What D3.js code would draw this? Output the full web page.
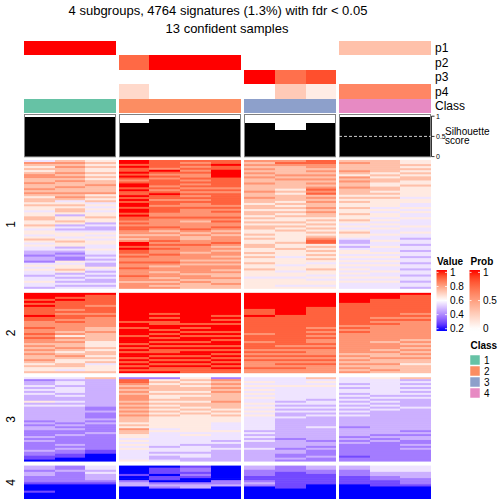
<!DOCTYPE html>
<html><head><meta charset="utf-8">
<script src="https://cdn.jsdelivr.net/npm/d3@7"></script>
<style>body{margin:0;background:#fff} svg{display:block} text{font-family:"Liberation Sans",Arial,Helvetica,sans-serif}</style>
</head><body><svg id="c" width="504" height="504"></svg>
<script>
// ---------------- data ----------------
const titleLines = ["4 subgroups, 4764 signatures (1.3%) with fdr < 0.05", "13 confident samples"];
const sampleClass = [1,1,1,2,2,2,2,3,3,3,4,4,4];
const classLevels = [1,2,3,4];
const classColors = ["#66C2A5","#FC8D62","#8DA0CB","#E78AC3"];
const probNames = ["p1","p2","p3","p4"];
const p1 = [1,1,1, 0,0,0,0, 0,0,0, 0.33,0.33,0.33];
const p2 = [0,0,0, 0.75,1,1,1, 0,0,0, 0,0,0];
const p3 = [0,0,0, 0,0,0,0, 1,0.72,0.85, 0,0,0];
const p4 = [0,0,0, 0.2,0,0,0, 0,0.28,0.1, 0.62,0.62,0.62];
const silhouette = [0.99,0.99,0.99, 0.82,0.93,0.93,0.93, 0.82,0.67,0.82, 0.99,0.99,0.99];
const rowGroupNames = ["1","2","3","4"];
const rowGroupCounts = [1877,1171,1229,487];
// each digit d = one band of rows (top to bottom), value = 0.2 + d*0.8/9
const heat1 = [
 "4765656776676676765665655455665565455456545443323324545443445443",
 "6767667676766766767645656653556534345545655343232254556534343434",
 "5656556565667666756564545455655343345454554454434343354343433434",
 "998988989878998988989899899898878788776767998988787787787778776777",
 "888879878788878789887887888778777787676778787877877787677677676767",
 "878787877878787878787877877778767778767667787776777676777767767666",
 "889889999888887878888887878778787787676777876767767676776766766766",
 "767676767667666766766566566565656655656556655656556556555455555",
 "787666676766665656665656565655656565555565565554555455455455545",
 "887767676767678786767667676656565656567885656565654556554545545",
 "676667657676676665656556556556545456554334345545454545454545444",
 "666666565665566565655554545545454544544544544545454544544545444",
 "556565656655655555455445454454445445443443443443443443443443443"];
const heat2 = [
 "9998989888898877787787877676767667656556",
 "9989888878788787777675767667656765566546",
 "9888887888787777766766665556566565645556",
 "9999999999999989989998999898989989898989",
 "9999999999898988998989898989889898989889",
 "9999999999999998989898998989899898989888",
 "9999999999989898999898989989898989898988",
 "9999999988898888888878887888787878777877",
 "9999999999988888888888888878787878787877",
 "9999999888888888878787877878777878787777",
 "9999988888888888787877777777776767676767",
 "9998888888887878777777776777676676676676",
 "9888888888787877777777767676767676656666"];
const heat3 = [
 "4233434343335343333333232332223232222322110",
 "4344344434334343333333323232232222323221100",
 "6333333333333332232223232222322222222110000",
 "2887676767776767676766656576655454545444445",
 "2565666565565656565655555545444444434434334",
 "5656566565665665656555555555454444344434433",
 "2767676766667666565655544445444434334333333",
 "4454545454544545454544444443434343334333333",
 "4444544444443434343343333333333233332332232",
 "6454544444434434343433333433333323323222322",
 "4443434434343434343433333233332323222222122",
 "5444444443434343433333333333323232222222222",
 "6343434343433334333333333332323322323222222"];
const heat4 = [
 "3323322210001000",
 "2232222210000000",
 "4434333210000000",
 "0000100233000000",
 "0111011023200000",
 "1221210023300000",
 "0000000223000000",
 "3322211232000000",
 "2221111111100000",
 "3322111110000000",
 "3322211110000000",
 "4443322111000000",
 "4443332221000000"];
const valueTicks = [1,0.8,0.6,0.4,0.2];
const probTicks = [1,0.5,0];
const silTicks = [0,0.5,1];

// ---------------- drawing ----------------
const svg = d3.select("#c");
const valueColor = d3.scaleLinear().domain([0.2,0.6,1]).range(["#0000FF","#FFFFFF","#FF0000"]).interpolate(d3.interpolateLab).clamp(true);
const probColor = d3.scaleLinear().domain([0,1]).range(["#FFFFFF","#FF0000"]).interpolate(d3.interpolateLab);
const classColor = d3.scaleOrdinal().domain(classLevels).range(classColors);
const decode = ch => 0.2 + (+ch) * 0.8 / 9;

const colGap = 3;
const band = d3.scaleBand().domain(d3.range(sampleClass.length)).range([24, 431 - colGap*3]);
const bw = band.bandwidth();
const xPos = i => band(i) + (sampleClass[i]-1)*colGap;
const colX = i => Math.round(xPos(i));
const colW = i => Math.round(xPos(i) + bw) - colX(i);
const groupIdx = k => d3.range(sampleClass.length).filter(i => sampleClass[i] === k);
const groupExtent = k => {
  const idx = groupIdx(k);
  return [colX(idx[0]), colX(idx[idx.length-1]) + colW(idx[idx.length-1])];
};

// title
svg.append("text").attr("x",218).attr("y",15).attr("text-anchor","middle").attr("font-size",13).text(titleLines[0]);
svg.append("text").attr("x",227).attr("y",33).attr("text-anchor","middle").attr("font-size",13).text(titleLines[1]);

// prob annotations
const probRows = [p1,p2,p3,p4];
const annY = d3.scaleBand().domain(probNames).range([41, 98.6]);
probRows.forEach((arr, r) => {
  svg.append("g").attr("shape-rendering","crispEdges").selectAll("rect").data(arr).join("rect")
    .attr("x",(d,i)=>colX(i)).attr("width",(d,i)=>colW(i))
    .attr("y",annY(probNames[r])).attr("height",annY.bandwidth()+(r<3?0.6:0))
    .attr("fill",d=>probColor(d));
  svg.append("text").attr("x",435).attr("y",annY(probNames[r])+annY.bandwidth()/2)
    .attr("dy","0.35em").attr("font-size",12).text(probNames[r]);
});
// class
svg.append("g").attr("shape-rendering","crispEdges").selectAll("rect").data(sampleClass).join("rect")
  .attr("x",(d,i)=>colX(i)).attr("width",(d,i)=>colW(i)).attr("y",99).attr("height",14.2)
  .attr("fill",d=>classColor(d));
svg.append("text").attr("x",435).attr("y",106).attr("dy","0.35em").attr("font-size",12).text("Class");

// silhouette: one step-area per group
const silY = d3.scaleLinear().domain([0,1]).range([156.6,116.2]);
const silArea = d3.area().curve(d3.curveStepAfter).x(d=>d.x).y0(silY(0)).y1(d=>silY(d.v));
classLevels.forEach(k => {
  const idx = groupIdx(k);
  const pts = idx.map(i => ({x: colX(i), v: silhouette[i]}));
  const last = idx[idx.length-1];
  pts.push({x: colX(last)+colW(last), v: silhouette[last]});
  svg.append("path").attr("d", silArea(pts)).attr("fill","#000").attr("shape-rendering","crispEdges");
});
classLevels.forEach(k => {
  const [a,b] = groupExtent(k);
  svg.append("rect").attr("x",a+0.5).attr("y",114.5).attr("width",b-a-1).attr("height",42.3)
    .attr("fill","none").attr("stroke","#808080").attr("stroke-width",1);
});
{
  const [a,b] = groupExtent(4);
  svg.append("line").attr("x1",a).attr("x2",b).attr("y1",silY(0.5)).attr("y2",silY(0.5))
    .attr("stroke","#CCCCCC").attr("stroke-dasharray","3,2");
}
const silAxis = svg.append("g");
silAxis.append("line").attr("x1",431.5).attr("x2",431.5).attr("y1",silY(0)).attr("y2",silY(1)).attr("stroke","#000").attr("stroke-width",0.8);
silTicks.forEach(t => {
  silAxis.append("line").attr("x1",431.5).attr("x2",434.5).attr("y1",silY(t)).attr("y2",silY(t)).attr("stroke","#000").attr("stroke-width",0.8);
  silAxis.append("text").attr("x",436).attr("y",silY(t)).attr("dy","0.35em").attr("font-size",7).text(t);
});
svg.append("text").attr("x",445).attr("y",134.5).attr("font-size",10).text("Silhouette");
svg.append("text").attr("x",445).attr("y",143.5).attr("font-size",10).text("score");

// heatmap
const heats = [heat1, heat2, heat3, heat4];
const total = d3.sum(rowGroupCounts);
const rowGap = 4;
const yRows = d3.scaleLinear().domain([0,total]).range([0, 499 - 160 - rowGap*3]);
let cum = 0;
heats.forEach((cols, g) => {
  const top = 160 + yRows(cum) + g*rowGap;
  cum += rowGroupCounts[g];
  const bottom = 160 + yRows(cum) + g*rowGap;
  const gEl = svg.append("g");
  cols.forEach((str, c) => {
    const vals = str.split("").map(decode);
    const y = d3.scaleLinear().domain([0, vals.length]).range([top, bottom]);
    gEl.selectAll(null).data(vals).join("rect")
      .attr("x", colX(c)).attr("width", colW(c))
      .attr("y",(d,i)=>y(i)).attr("height",(d,i)=>y(i+1)-y(i)+(i<vals.length-1?0.6:0))
      .attr("fill", d=>valueColor(d));
  });
  svg.append("text").attr("transform",`translate(${15},${(top+bottom)/2}) rotate(-90)`)
    .attr("text-anchor","middle").attr("font-size",12).text(rowGroupNames[g]);
});

// legends
const defs = svg.append("defs");
function gradient(id, scale, lo, hi) {
  const gr = defs.append("linearGradient").attr("id",id).attr("x1",0).attr("x2",0).attr("y1",1).attr("y2",0);
  d3.range(0,1.0001,0.05).forEach(t => gr.append("stop").attr("offset",t).attr("stop-color",scale(lo + t*(hi-lo))));
}
gradient("gv", valueColor, 0.17, 1.02);
gradient("gp", probColor, -0.03, 1.03);
const legY = d3.scaleLinear().domain([0,1]).range([328.7,272.4]);
// value legend
svg.append("text").attr("x",437).attr("y",265).attr("font-size",10).attr("font-weight","bold").text("Value");
svg.append("rect").attr("x",436.5).attr("y",270).attr("width",10.5).attr("height",61).attr("fill","url(#gv)");
const vScale = d3.scaleLinear().domain([0.2,1]).range([328.7,272.4]);
valueTicks.forEach(t => {
  svg.append("line").attr("x1",436.5).attr("x2",438.5).attr("y1",vScale(t)).attr("y2",vScale(t)).attr("stroke","#fff").attr("stroke-width",0.8);
  svg.append("line").attr("x1",445).attr("x2",447).attr("y1",vScale(t)).attr("y2",vScale(t)).attr("stroke","#fff").attr("stroke-width",0.8);
  svg.append("text").attr("x",450).attr("y",vScale(t)).attr("dy","0.35em").attr("font-size",10).text(t);
});
// prob legend
svg.append("text").attr("x",470.5).attr("y",265).attr("font-size",10).attr("font-weight","bold").text("Prob");
svg.append("rect").attr("x",469.5).attr("y",270).attr("width",10.5).attr("height",61).attr("fill","url(#gp)");
probTicks.forEach(t => {
  svg.append("line").attr("x1",469.5).attr("x2",471.5).attr("y1",legY(t)).attr("y2",legY(t)).attr("stroke","#fff").attr("stroke-width",0.8);
  svg.append("line").attr("x1",478).attr("x2",480).attr("y1",legY(t)).attr("y2",legY(t)).attr("stroke","#fff").attr("stroke-width",0.8);
  svg.append("text").attr("x",483).attr("y",legY(t)).attr("dy","0.35em").attr("font-size",10).text(t);
});
// class legend
svg.append("text").attr("x",470.5).attr("y",349).attr("font-size",10).attr("font-weight","bold").text("Class");
const clsY = d3.scaleBand().domain(classLevels).range([355,399]);
classLevels.forEach(k => {
  svg.append("rect").attr("x",470).attr("y",clsY(k)).attr("width",10).attr("height",clsY.bandwidth()-1)
    .attr("fill",classColor(k)).attr("stroke","#fff").attr("stroke-width",0.5);
  svg.append("text").attr("x",484).attr("y",clsY(k)+clsY.bandwidth()/2).attr("dy","0.35em").attr("font-size",10).text(k);
});
</script></body></html>
